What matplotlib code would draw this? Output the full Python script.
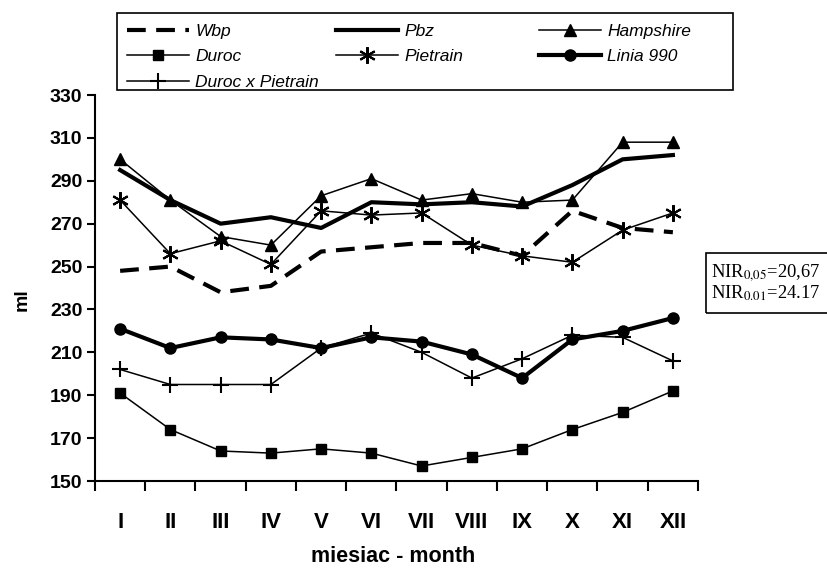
import numpy as np
import matplotlib
matplotlib.use("Agg")
import matplotlib.pyplot as plt
from matplotlib.patches import Rectangle

months = ["I", "II", "III", "IV", "V", "VI", "VII", "VIII", "IX", "X", "XI", "XII"]
wbp = [248, 250, 238, 241, 257, 259, 261, 261, 255, 276, 268, 266]
pbz = [295, 281, 270, 273, 268, 280, 279, 280, 278, 288, 300, 302]
hampshire = [300, 281, 264, 260, 283, 291, 281, 284, 280, 281, 308, 308]
duroc = [191, 174, 164, 163, 165, 163, 157, 161, 165, 174, 182, 192]
pietrain = [281, 256, 262, 251, 276, 274, 275, 260, 255, 252, 267, 275]
linia990 = [221, 212, 217, 216, 212, 217, 215, 209, 198, 216, 220, 226]
duroc_pietrain = [202, 195, 195, 195, 212, 219, 210, 198, 207, 218, 217, 206]
y_ticks = [150, 170, 190, 210, 230, 250, 270, 290, 310, 330]
nir_lines = [r"NIR$_{0{,}05}$=20,67", r"NIR$_{0.01}$=24.17"]

plt.rcParams["font.family"] = ["Liberation Sans", "DejaVu Sans"]
plt.rcParams["mathtext.fontset"] = "stix"

W, H = 828, 569
fig = plt.figure(figsize=(W / 100, H / 100), dpi=100)

def fx(px):
    return px / W

def fy(py):
    return 1 - py / H

L, R, T, B = 95, 698, 95, 481
ax = fig.add_axes([fx(L), fy(B), fx(R) - fx(L), fy(T) - fy(B)])

x = np.arange(1, len(months) + 1)
thin = 1.1
thick = 3.0
l_wbp, = ax.plot(x, wbp, color="black", lw=thick, dashes=(4.5, 2.5), label="Wbp")
l_pbz, = ax.plot(x, pbz, color="black", lw=thick, label="Pbz")
l_ham, = ax.plot(x, hampshire, color="black", lw=thin, marker="^", ms=8, label="Hampshire")
l_dur, = ax.plot(x, duroc, color="black", lw=thin, marker="s", ms=7, label="Duroc")
l_pie, = ax.plot(x, pietrain, color="black", lw=thin, marker=(6, 2, 0), ms=12, mew=1.5, label="Pietrain")
l_lin, = ax.plot(x, linia990, color="black", lw=thick, marker="o", ms=8, label="Linia 990")
l_dxp, = ax.plot(x, duroc_pietrain, color="black", lw=thin, marker="+", ms=12, mew=1.5, label="Duroc x Pietrain")

ax.set_xlim(0.5, len(months) + 0.5)
ax.set_ylim(150, 330)
ax.set_yticks(y_ticks)
ax.set_yticklabels([str(v) for v in y_ticks], fontsize=14, fontweight="bold")
ax.set_xticks(x)
ax.set_xticklabels(months, fontsize=16, fontweight="bold")
ax.set_xticks(np.arange(0.5, len(months) + 1, 1.0), minor=True)
ax.tick_params(axis="x", which="major", length=0, pad=22)
ax.tick_params(axis="x", which="minor", length=7, width=1.5, direction="out")
ax.tick_params(axis="y", length=6, width=1.5, direction="out", pad=3)
for s in ["top", "right"]:
    ax.spines[s].set_visible(False)
for s in ["left", "bottom"]:
    ax.spines[s].set_linewidth(1.5)

fig.text(fx(393), fy(557), "miesiac - month", ha="center", va="center", fontsize=15.5, fontweight="bold")
fig.text(fx(22), fy(300), "ml", ha="center", va="center", rotation=90, fontsize=14, fontweight="bold")

# legend frame
fig.patches.append(Rectangle((fx(117), fy(90)), fx(733) - fx(117), fy(13) - fy(90),
                             transform=fig.transFigure, fill=False, ec="black", lw=1.2))
cols = [([l_wbp, l_dur, l_dxp], 118), ([l_pbz, l_pie], 327), ([l_ham, l_lin], 530)]
for handles, px in cols:
    leg = fig.legend(handles=handles, loc="upper left", bbox_to_anchor=(fx(px), fy(15)),
                     bbox_transform=fig.transFigure, frameon=False, borderpad=0,
                     handlelength=3.6, handletextpad=0.35, labelspacing=0.6,
                     prop={"family": "Liberation Sans", "style": "italic", "size": 12.5})

# NIR box
fig.patches.append(Rectangle((fx(706), fy(313)), fx(830) - fx(706), fy(253) - fy(313),
                             transform=fig.transFigure, fill=False, ec="black", lw=1.2))
for i, t in enumerate(nir_lines):
    fig.text(fx(711), fy(273 + 20 * i), t, ha="left", va="center", fontsize=13.3,
             family="Liberation Serif")

fig.savefig("out.png", dpi=100)
